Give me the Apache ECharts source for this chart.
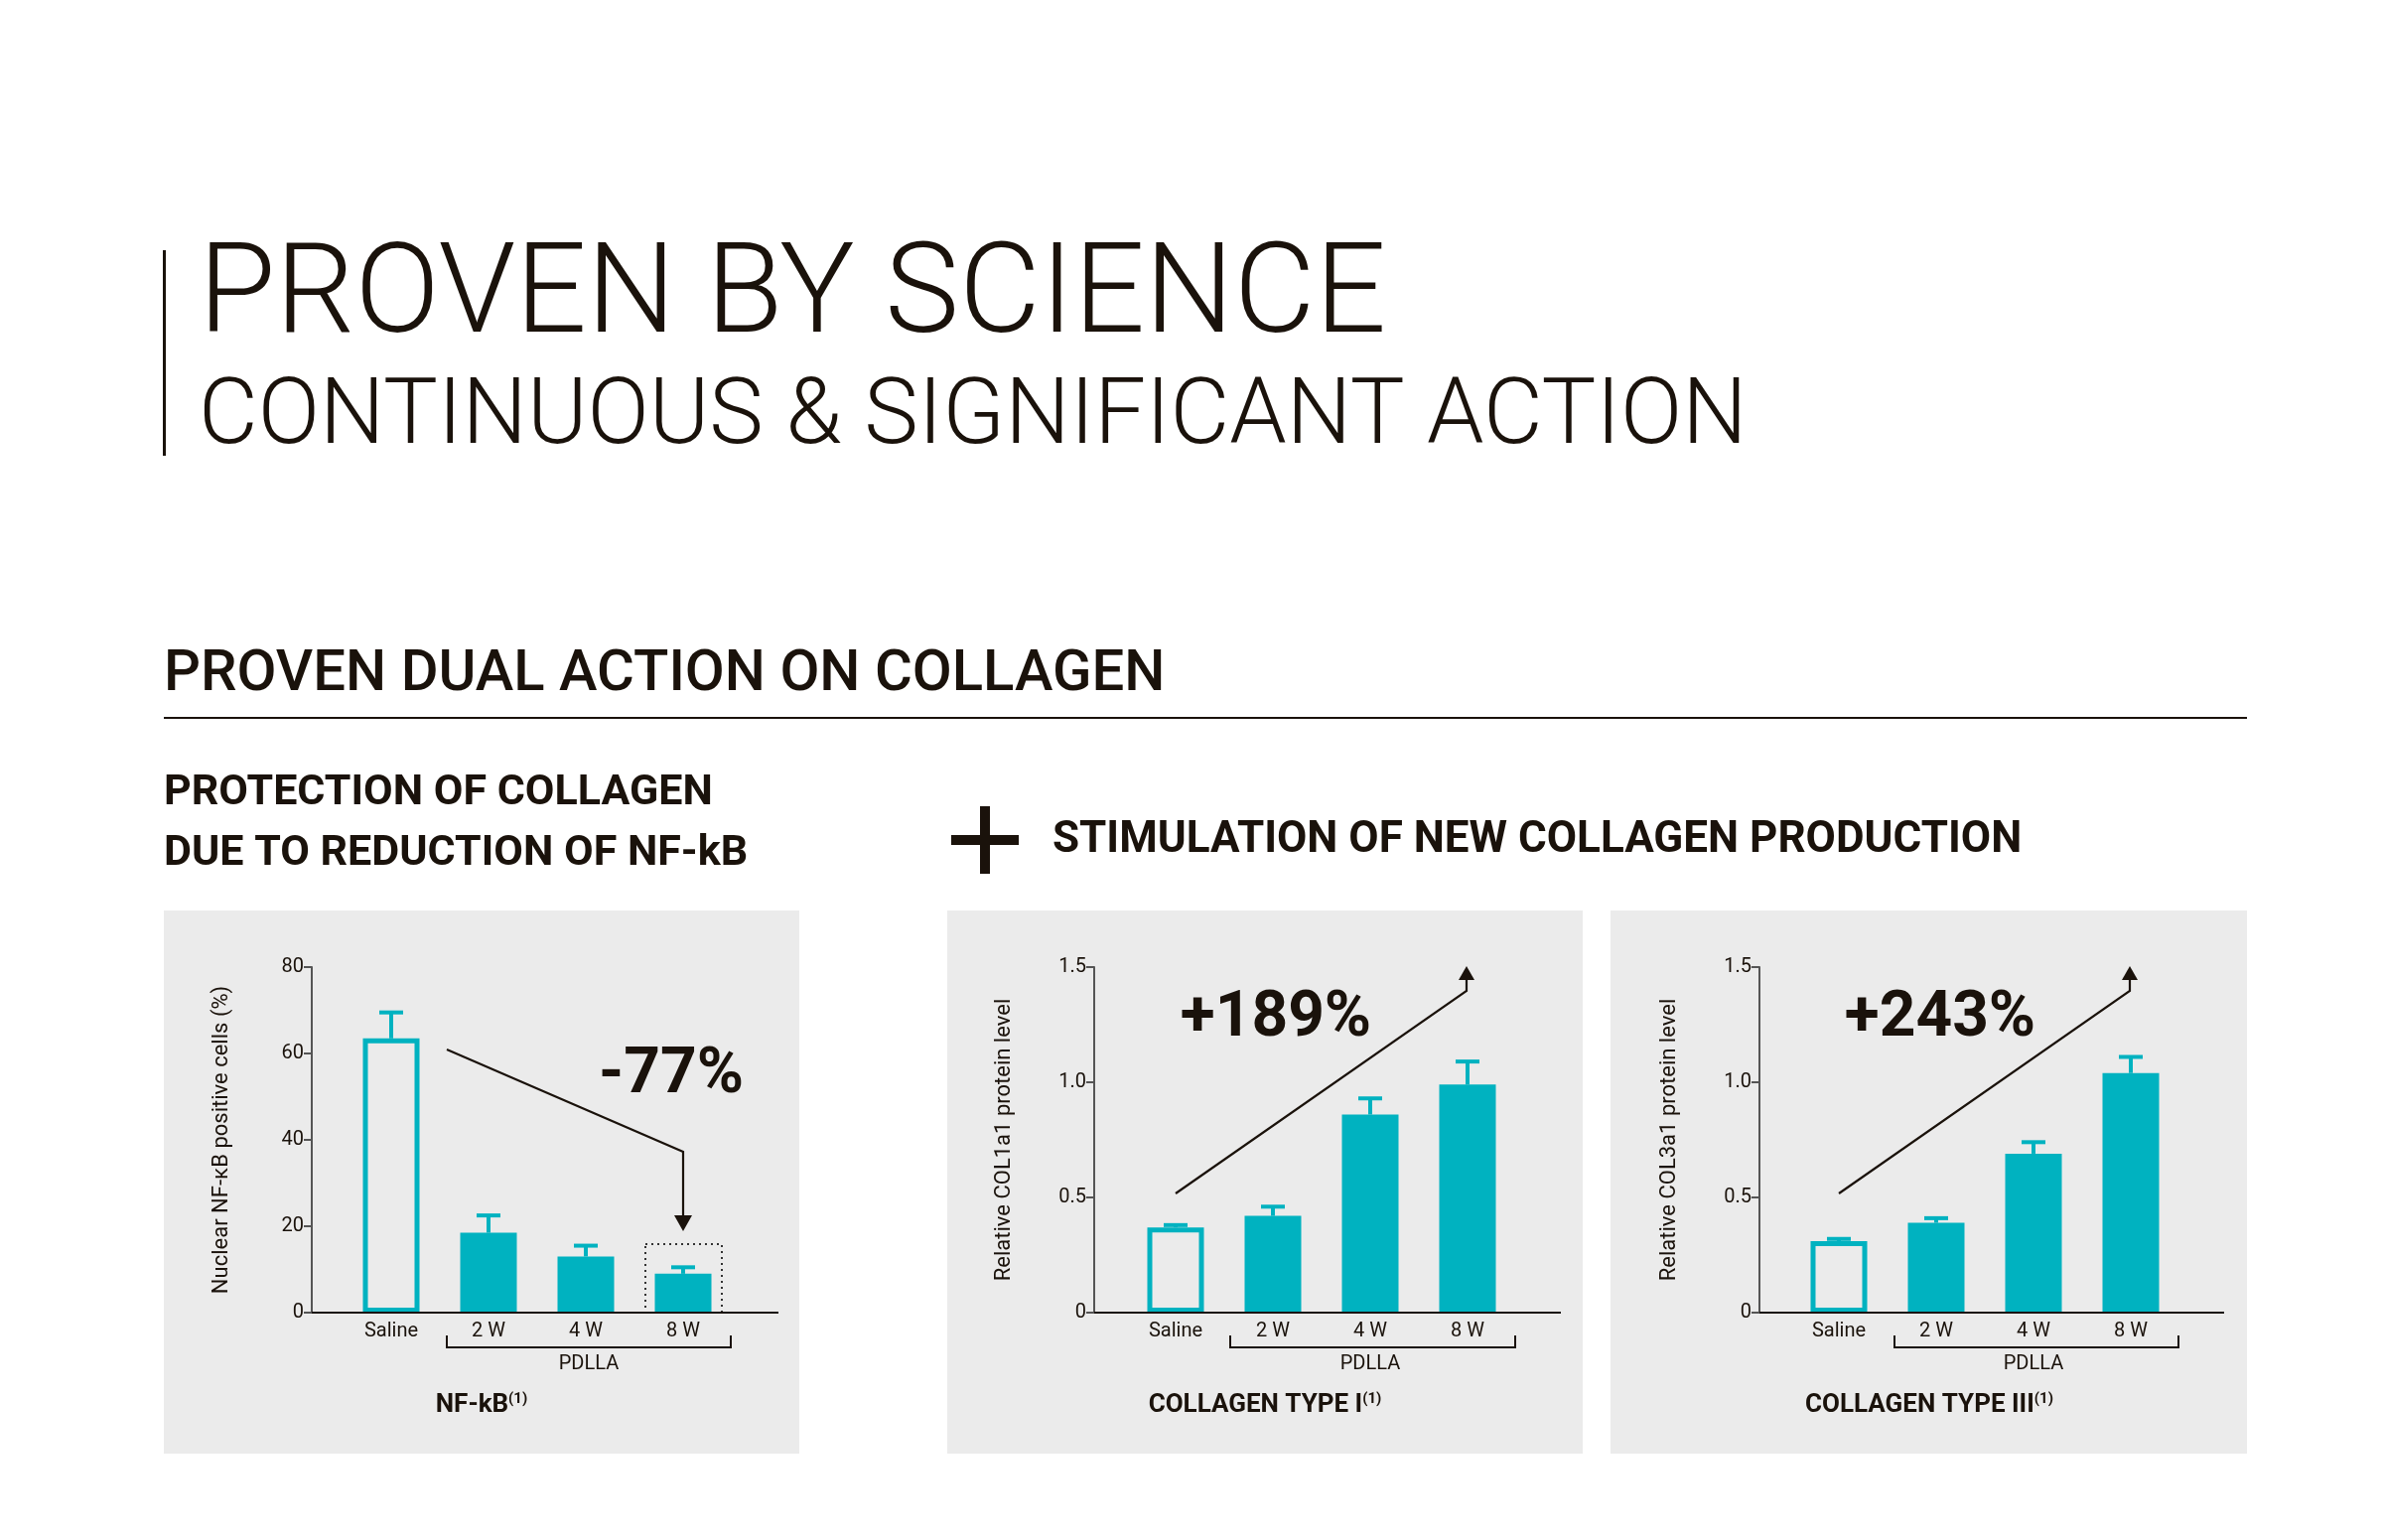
<!DOCTYPE html>
<html>
<head>
<meta charset="utf-8">
<script src="https://cdn.jsdelivr.net/npm/echarts@6/dist/echarts.min.js"></script>
<style>
html, body { margin: 0; padding: 0; background: #fff; }
#chart { width: 2400px; height: 1551px; }
</style>
</head>
<body>
<div id="chart"></div>
<script>
'use strict';
var categories = ['Saline', '2 W', '4 W', '8 W'];

var nfkbMean = [63.5, 18.5, 13, 9];
var nfkbUpper = [69.5, 22.5, 15.5, 10.5];
var nfkbTicks = [0, 20, 40, 60, 80];

var col1Mean = [0.37, 0.42, 0.86, 0.99];
var col1Upper = [0.38, 0.46, 0.93, 1.09];

var col3Mean = [0.31, 0.39, 0.69, 1.04];
var col3Upper = [0.32, 0.41, 0.74, 1.11];
var colTicks = [0, 0.5, 1.0, 1.5];

var TEAL = '#00b2c0';
var INK = '#1a120b';
var PANEL = '#ebebeb';
var FONT = 'Roboto, "DejaVu Sans", sans-serif';

var chart = echarts.init(document.getElementById('chart'));

var grids = [
    { left: 345, width: 392, top: 974, height: 348 },
    { left: 1135, width: 392, top: 974, height: 348 },
    { left: 1803, width: 392, top: 974, height: 348 }
];

function xAxisFor(i) {
    return {
        type: 'category', gridIndex: i, data: categories,
        axisLine: { show: false }, axisTick: { show: false },
        axisLabel: { color: INK, fontSize: 20, fontFamily: FONT, margin: 9 }
    };
}

function yAxisFor(i, max, interval, name, offset, fmt) {
    return {
        type: 'value', gridIndex: i, min: 0, max: max, interval: interval, offset: offset,
        name: name, nameLocation: 'middle', nameGap: 80, nameRotate: 90,
        nameTextStyle: { color: INK, fontSize: 22, fontFamily: FONT },
        splitLine: { show: false },
        axisLine: { show: true, lineStyle: { color: '#555', width: 2 } },
        axisTick: { show: true, length: 8, lineStyle: { color: '#555', width: 2 } },
        axisLabel: { color: INK, fontSize: 20, fontFamily: FONT, margin: 8, formatter: fmt }
    };
}

function barData(vals) {
    return vals.map(function(v, k) {
        if (k === 0) {
            return { value: v, itemStyle: { color: PANEL, borderColor: TEAL, borderWidth: 5 } };
        }
        return { value: v, itemStyle: { color: TEAL } };
    });
}

function errData(mean, upper) {
    return mean.map(function(m, k) { return [k, m, upper[k]]; });
}

function renderErr(params, api) {
    var base = api.coord([api.value(0), api.value(1)]);
    var top = api.coord([api.value(0), api.value(2)]);
    var style = { stroke: TEAL, lineWidth: 4 };
    return {
        type: 'group',
        children: [
            { type: 'line', shape: { x1: base[0], y1: base[1], x2: top[0], y2: top[1] }, style: style },
            { type: 'line', shape: { x1: top[0] - 12, y1: top[1], x2: top[0] + 12, y2: top[1] }, style: style }
        ]
    };
}

function series(i, mean, upper) {
    return [
        { type: 'bar', xAxisIndex: i, yAxisIndex: i, barWidth: 57, data: barData(mean), z: 3 },
        { type: 'custom', xAxisIndex: i, yAxisIndex: i, renderItem: renderErr, data: errData(mean, upper), z: 4 }
    ];
}

// y is the vertical centre of the text
function txt(x, y, text, size, weight, align) {
    return {
        type: 'text', x: x, y: y, z: 50,
        style: { text: text, fill: INK, fontSize: size, fontWeight: weight, fontFamily: FONT,
                 align: align || 'left', verticalAlign: 'middle' }
    };
}

function line(pts, w) {
    return { type: 'polyline', z: 50, shape: { points: pts },
             style: { stroke: INK, lineWidth: w || 2, fill: null } };
}

function arrowHead(x, y, dir) {
    var pts = dir === 'down' ? [[x - 9, y - 16], [x + 9, y - 16], [x, y]] : [[x - 8, y + 14], [x + 8, y + 14], [x, y]];
    return { type: 'polygon', z: 50, shape: { points: pts }, style: { fill: INK } };
}

function bracket(x1, x2, y) {
    return line([[x1, y - 12], [x1, y], [x2, y], [x2, y - 12]], 2);
}

function titleRich(x, y, main) {
    return {
        type: 'text', x: x, y: y, z: 50,
        style: {
            text: '{a|' + main + '}{s|(1)}', align: 'center', verticalAlign: 'middle',
            rich: {
                a: { fontSize: 26, fontWeight: 'bold', fill: INK, fontFamily: FONT },
                s: { fontSize: 15, fontWeight: 'bold', fill: INK, fontFamily: FONT, verticalAlign: 'top', padding: [0, 0, 12, 0] }
            }
        }
    };
}

var graphics = [
    // panels
    { type: 'rect', z: -10, shape: { x: 165, y: 917, width: 640, height: 547 }, style: { fill: PANEL } },
    { type: 'rect', z: -10, shape: { x: 954, y: 917, width: 640, height: 547 }, style: { fill: PANEL } },
    { type: 'rect', z: -10, shape: { x: 1622, y: 917, width: 641, height: 547 }, style: { fill: PANEL } },
    // header
    { type: 'rect', z: 50, shape: { x: 164, y: 252, width: 3, height: 207 }, style: { fill: INK } },
    txt(200, 302, 'PROVEN BY SCIENCE', 126, 300),
    txt(200, 423, 'CONTINUOUS & SIGNIFICANT ACTION', 92, 300),
    txt(165, 680, 'PROVEN DUAL ACTION ON COLLAGEN', 58, 500),
    { type: 'rect', z: 50, shape: { x: 165, y: 722, width: 2098, height: 2 }, style: { fill: INK } },
    txt(165, 799, 'PROTECTION OF COLLAGEN', 43, 'bold'),
    txt(165, 860, 'DUE TO REDUCTION OF NF-kB', 43, 'bold'),
    { type: 'rect', z: 50, shape: { x: 958, y: 841, width: 68, height: 10 }, style: { fill: INK } },
    { type: 'rect', z: 50, shape: { x: 987, y: 812, width: 10, height: 68 }, style: { fill: INK } },
    txt(1060, 847, 'STIMULATION OF NEW COLLAGEN PRODUCTION', 44, 'bold'),
    // x axis lines
    line([[314, 1322], [784, 1322]], 2),
    line([[1102, 1322], [1572, 1322]], 2),
    line([[1772, 1322], [2240, 1322]], 2),
    // brackets
    bracket(450, 736, 1357), txt(593, 1374, 'PDLLA', 20, 'normal', 'center'),
    bracket(1239, 1526, 1357), txt(1380, 1374, 'PDLLA', 20, 'normal', 'center'),
    bracket(1908, 2194, 1357), txt(2048, 1374, 'PDLLA', 20, 'normal', 'center'),
    // titles
    titleRich(485, 1415, 'NF-kB'),
    titleRich(1274, 1415, 'COLLAGEN TYPE I'),
    titleRich(1943, 1415, 'COLLAGEN TYPE III'),
    // annotations
    line([[450, 1057], [688, 1160], [688, 1225]], 2.2), arrowHead(688, 1240, 'down'),
    { type: 'rect', z: 1, shape: { x: 650, y: 1253, width: 77, height: 69 }, style: { fill: null, stroke: '#333', lineWidth: 2, lineDash: [2, 4] } },
    txt(676, 1084, '-77%', 64, 'bold', 'center'),
    line([[1184, 1202], [1477, 998], [1477, 985]], 2.2), arrowHead(1477, 973, 'up'),
    txt(1285, 1027, '+189%', 64, 'bold', 'center'),
    line([[1852, 1202], [2145, 998], [2145, 985]], 2.2), arrowHead(2145, 973, 'up'),
    txt(1954, 1027, '+243%', 64, 'bold', 'center')
];

var colFmt = function(v) { return v === 0 ? '0' : v.toFixed(1); };

chart.setOption({
    backgroundColor: '#ffffff',
    animation: false,
    grid: grids,
    xAxis: [xAxisFor(0), xAxisFor(1), xAxisFor(2)],
    yAxis: [
        yAxisFor(0, nfkbTicks[nfkbTicks.length - 1], 20, 'Nuclear NF-\u03baB positive cells (%)', 31),
        yAxisFor(1, colTicks[colTicks.length - 1], 0.5, 'Relative COL1a1 protein level', 33, colFmt),
        yAxisFor(2, colTicks[colTicks.length - 1], 0.5, 'Relative COL3a1 protein level', 31, colFmt)
    ],
    series: [].concat(series(0, nfkbMean, nfkbUpper), series(1, col1Mean, col1Upper), series(2, col3Mean, col3Upper)),
    graphic: graphics
});
</script>
</body>
</html>
